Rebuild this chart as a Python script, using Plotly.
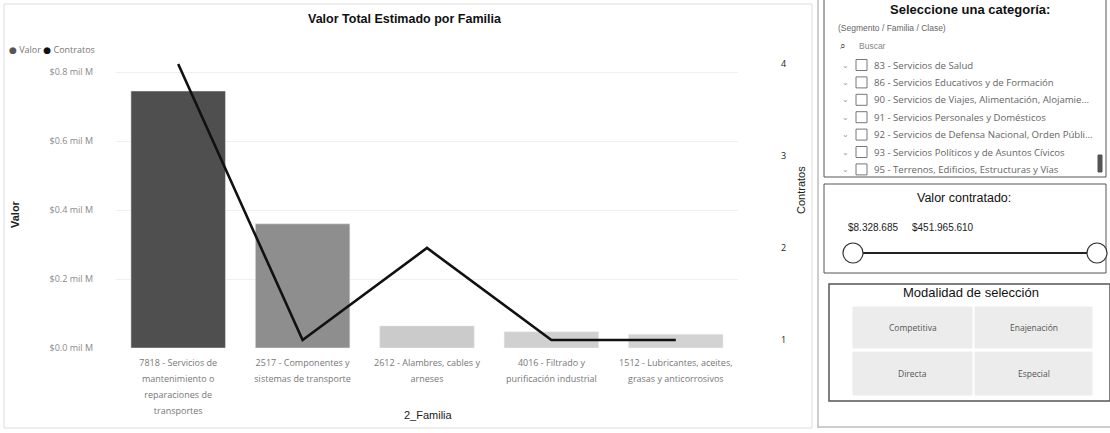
import plotly.graph_objects as go

# ---------------- data ----------------
familias = [
    "7818 - Servicios de<br>mantenimiento o<br>reparaciones de<br>transportes",
    "2517 - Componentes y<br>sistemas de transporte",
    "2612 - Alambres, cables y<br>arneses",
    "4016 - Filtrado y<br>purificación industrial",
    "1512 - Lubricantes, aceites,<br>grasas y anticorrosivos",
]
valor_mil_m = [0.745, 0.36, 0.064, 0.047, 0.04]   # Valor, en mil M
contratos = [4, 1, 2, 1, 1]
bar_colors = ["#4f4f4f", "#8e8e8e", "#cbcbcb", "#d0d0d0", "#d3d3d3"]

valor_ticks = [0.0, 0.2, 0.4, 0.6, 0.8]
valor_ticklabels = ["$0.0 mil M", "$0.2 mil M", "$0.4 mil M", "$0.6 mil M", "$0.8 mil M"]
contratos_ticks = [1, 2, 3, 4]

categorias_slicer = [
    "83 - Servicios de Salud",
    "86 - Servicios Educativos y de Formación",
    "90 - Servicios de Viajes, Alimentación, Alojamie...",
    "91 - Servicios Personales y Domésticos",
    "92 - Servicios de Defensa Nacional, Orden Públi...",
    "93 - Servicios Políticos y de Asuntos Cívicos",
    "95 - Terrenos, Edificios, Estructuras y Vías",
]
valor_min_txt = "$8.328.685"
valor_max_txt = "$451.965.610"
modalidades = ["Competitiva", "Enajenación", "Directa", "Especial"]

# ---------------- figure ----------------
W, H = 1110, 433
L, R, T, B = 116, 372, 60, 85

fig = go.Figure()
fig.add_trace(go.Bar(
    x=familias, y=valor_mil_m, marker_color=bar_colors, width=0.76,
    name="Valor", showlegend=False, yaxis="y",
))
fig.add_trace(go.Scatter(
    x=familias, y=contratos, mode="lines", line=dict(color="#111111", width=2.6),
    name="Contratos", showlegend=False, yaxis="y2",
))

# tick labels: small text, taller line spacing (like Power BI wrapping)
x_ticktext = ["<br>".join(f"<span style='font-size:9px'>{part}</span>" for part in f.split("<br>"))
              for f in familias]

tick_font = dict(family="Open Sans, DejaVu Sans, sans-serif", size=9, color="#8a8a8a")

fig.update_layout(
    width=W, height=H,
    margin=dict(l=L, r=R, t=T, b=B),
    paper_bgcolor="white", plot_bgcolor="white",
    bargap=0.24,
    xaxis=dict(
        showgrid=False, showline=False, zeroline=False,
        tickmode="array", tickvals=familias, ticktext=x_ticktext,
        tickfont=dict(family="Open Sans, DejaVu Sans, sans-serif", size=12.3, color="#777777"),
        ticks="", ticklabelstandoff=5,
    ),
    yaxis=dict(
        range=[0, 0.835], tickvals=valor_ticks, ticktext=valor_ticklabels,
        showgrid=True, gridcolor="#f0f0f0", zeroline=False, showline=False,
        tickfont=tick_font, ticklabelstandoff=22,
    ),
    yaxis2=dict(
        overlaying="y", side="right", range=[0.913, 4.043], tickvals=contratos_ticks,
        showgrid=False, zeroline=False, showline=False,
        tickfont=dict(family="Open Sans, DejaVu Sans, sans-serif", size=9, color="#222222"),
        ticklabelstandoff=42,
    ),
    font=dict(family="Open Sans, DejaVu Sans, sans-serif"),
)

shapes = []
ann = []

def fx(x):
    return (x - L) / (W - L - R)

def fy(y):
    return (H - B - y) / (H - T - B)

def add_text(x, y, text, size=9, color="#333", bold=False, family="Liberation Sans, Arial, sans-serif",
             xanchor="left", textangle=0):
    t = f"<b>{text}</b>" if bold else text
    ann.append(dict(xref="paper", yref="paper", x=fx(x), y=fy(y),
                    text=t, showarrow=False, xanchor=xanchor, yanchor="middle",
                    font=dict(size=size, color=color, family=family), textangle=textangle))

def add_rect(x0, y0, x1, y1, line="#cfcfcf", fill=None, width=1):
    shapes.append(dict(type="rect", xref="paper", yref="paper", x0=fx(x0), x1=fx(x1), y0=fy(y0), y1=fy(y1),
                       line=dict(color=line, width=width), fillcolor=fill or "rgba(0,0,0,0)", layer="above"))

def add_line(x0, y0, x1, y1, color="#333", width=1):
    shapes.append(dict(type="line", xref="paper", yref="paper", x0=fx(x0), x1=fx(x1), y0=fy(y0), y1=fy(y1),
                       line=dict(color=color, width=width)))

def add_circle(cx, cy, r, color="#333", width=1.2):
    shapes.append(dict(type="circle", xref="paper", yref="paper", x0=fx(cx - r), x1=fx(cx + r),
                       y0=fy(cy + r), y1=fy(cy - r),
                       line=dict(color=color, width=width), fillcolor="white", layer="above"))

# main chart frame
add_rect(4, 4, 812, 428, line="#dcdcdc")
# title, legend, axis titles
add_text(405, 19, "Valor Total Estimado por Familia", size=12.5, color="#111", bold=True,
         family="Liberation Sans Narrow, Arial Narrow, Liberation Sans, sans-serif", xanchor="center")
add_text(7, 50, "<span style='color:#555'>●</span> Valor <span style='color:#111'>●</span> Contratos",
         size=9, color="#777", family="Open Sans, DejaVu Sans, sans-serif")
add_text(15, 214, "Valor", size=11, color="#222", bold=True, xanchor="center", textangle=-90)
add_text(801, 190, "Contratos", size=11, color="#222", xanchor="center", textangle=-90)
add_text(428, 415, "2_Familia", size=11, color="#222",
         family="Liberation Sans Narrow, Arial Narrow, Liberation Sans, sans-serif", xanchor="center")

# right column outer frame
add_line(818, 0, 818, 428, color="#bdbdbd", width=1.5)
add_line(818, 427, 1110, 427, color="#bdbdbd", width=1.5)

# panel 1: slicer
add_rect(824, -2, 1106, 177, line="#555", width=1)
add_text(970, 10, "Seleccione una categoría:", size=13, color="#111", bold=True, xanchor="center",
         family="Liberation Sans Narrow, Arial Narrow, Liberation Sans, sans-serif")
add_text(836, 28, "(Segmento / Familia / Clase)", size=8.5, color="#666")
add_text(838, 46, "⌕", size=10, color="#444")
add_text(857, 46, "Buscar", size=8.5, color="#888")
for i, item in enumerate(categorias_slicer):
    yy = 65 + i * 17.4
    add_text(845, yy, "⌄", size=8, color="#999", xanchor="center")
    add_rect(856, yy - 5.5, 867, yy + 5.5, line="#777", width=1)
    add_text(872, yy, item, size=9.6, color="#666", family="Open Sans, DejaVu Sans, sans-serif")
add_rect(1098, 155, 1102, 172, line="#555", fill="#555")

# panel 2: range slider
add_rect(824, 184, 1106, 273, line="#555", width=1)
add_text(964, 198, "Valor contratado:", size=12.5, color="#111", xanchor="center")
add_text(846, 227, valor_min_txt, size=10, color="#222")
add_text(910, 227, valor_max_txt, size=10, color="#222")
add_line(853, 253, 1097, 253, color="#222", width=2)
add_circle(853, 253, 10)
add_circle(1097, 253, 10)

# panel 3: buttons
add_rect(829, 284, 1110, 401, line="#555", width=1.5)
add_text(971, 292, "Modalidad de selección", size=13, color="#111", xanchor="center")
btn_boxes = [(853, 307, 972, 348), (975, 307, 1092, 348), (853, 352, 972, 395), (975, 352, 1092, 395)]
for (x0, y0, x1, y1), m in zip(btn_boxes, modalidades):
    add_rect(x0, y0, x1, y1, line="#ececec", fill="#ececec")
    add_text((x0 + x1) / 2, (y0 + y1) / 2, m, size=8.5, color="#555", xanchor="center",
             family="Open Sans, DejaVu Sans, sans-serif")

fig.update_layout(shapes=shapes, annotations=ann)
fig.write_html("out.html", config={"displayModeBar": False},
               post_script="document.body.style.margin='0';document.body.style.overflow='hidden';")
